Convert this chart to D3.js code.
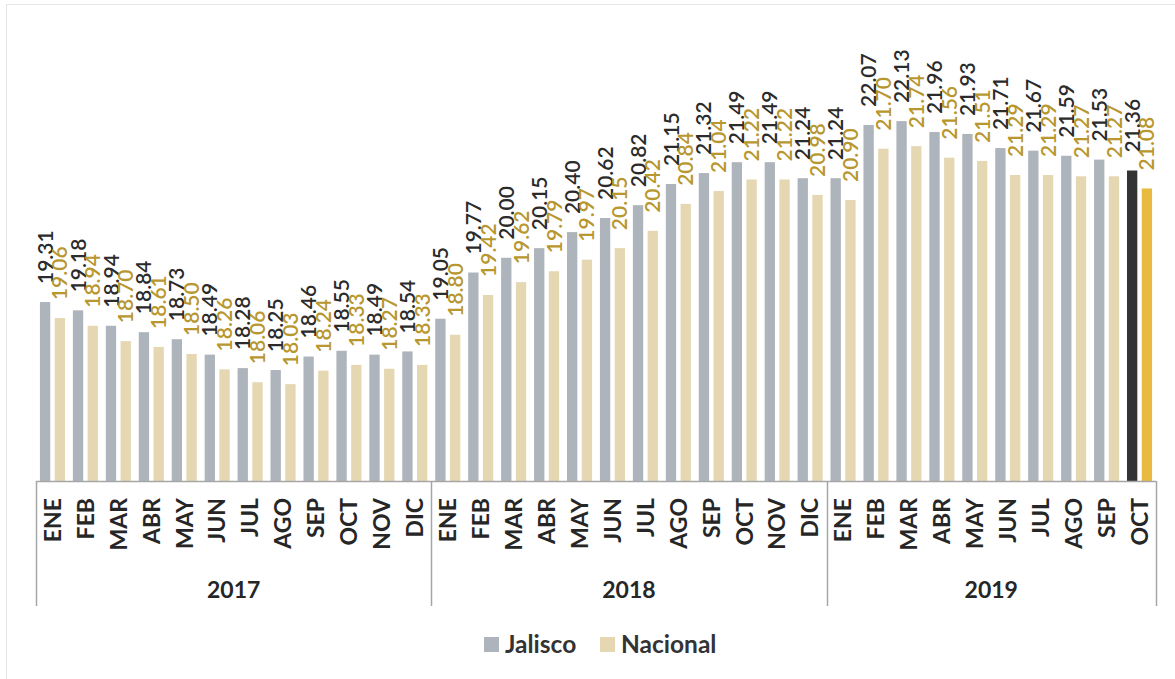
<!DOCTYPE html>
<html>
<head>
<meta charset="utf-8">
<script src="https://cdn.jsdelivr.net/npm/d3@7"></script>
<style>
  body { margin: 0; background: #fff; }
  svg { display: block; font-family: Lato, "Open Sans", sans-serif; }
</style>
</head>
<body>
<div id="chart"></div>
<script>
// datos
var years = ["2017", "2018", "2019"];
var meses = ["ENE", "FEB", "MAR", "ABR", "MAY", "JUN", "JUL", "AGO", "SEP", "OCT", "NOV", "DIC"];
var mesesPorAnio = [12, 12, 10];
var series = ["Jalisco", "Nacional"];

var jalisco = [19.31, 19.18, 18.94, 18.84, 18.73, 18.49, 18.28, 18.25, 18.46, 18.55, 18.49, 18.54,
               19.05, 19.77, 20.00, 20.15, 20.40, 20.62, 20.82, 21.15, 21.32, 21.49, 21.49, 21.24,
               21.24, 22.07, 22.13, 21.96, 21.93, 21.71, 21.67, 21.59, 21.53, 21.36];
var nacional = [19.06, 18.94, 18.70, 18.61, 18.50, 18.26, 18.06, 18.03, 18.24, 18.33, 18.27, 18.33,
                18.80, 19.42, 19.62, 19.79, 19.97, 20.15, 20.42, 20.84, 21.04, 21.22, 21.22, 20.98,
                20.90, 21.70, 21.74, 21.56, 21.51, 21.29, 21.29, 21.27, 21.27, 21.08];

var width = 1175, height = 679;
var left = 36, right = 1156, axisY = 481;

var colores = { Jalisco: "#aeb4bb", Nacional: "#e5d7b2" };
var coloresUltimo = { Jalisco: "#333335", Nacional: "#e8ba40" };
var colorTexto = { Jalisco: "#2b2b2b", Nacional: "#b8972f" };

// construir categorias año-mes
var cats = [];
years.forEach(function(y, i) {
	for (var m = 0; m < mesesPorAnio[i]; m++) {
		cats.push({ year: y, mes: meses[m], key: y + "-" + meses[m] });
	}
});
var rows = cats.map(function(c, i) {
	return { key: c.key, year: c.year, mes: c.mes, Jalisco: jalisco[i], Nacional: nacional[i], last: i == cats.length - 1 };
});

var svg = d3.select("#chart").append("svg").attr("width", width).attr("height", height);

// marco exterior
svg.append("rect")
	.attr("x", 6.5).attr("y", 4.5)
	.attr("width", width + 10).attr("height", height + 10)
	.attr("fill", "none").attr("stroke", "#e6e6e6");

var x = d3.scaleBand().domain(rows.map(function(d) { return d.key; })).range([left, right]);
var x1 = d3.scaleBand().domain(series).range([0, x.bandwidth()]).paddingInner(0.3).paddingOuter(0.267);
var y = d3.scaleLinear().domain([16.52, 23]).range([axisY, axisY - 6.48 * 64.15]);

var grupos = svg.selectAll("g.mes")
	.data(rows)
	.enter().append("g")
	.attr("class", "mes")
	.attr("transform", function(d) { return "translate(" + x(d.key) + ",0)"; });

grupos.selectAll("rect")
	.data(function(d) { return series.map(function(s) { return { s: s, v: d[s], last: d.last }; }); })
	.enter().append("rect")
	.attr("x", function(d) { return x1(d.s); })
	.attr("width", x1.bandwidth())
	.attr("y", function(d) { return y(d.v); })
	.attr("height", function(d) { return axisY - y(d.v); })
	.attr("fill", function(d) { return d.last ? coloresUltimo[d.s] : colores[d.s]; });

grupos.selectAll("text.valor")
	.data(function(d) { return series.map(function(s) { return { s: s, v: d[s] }; }); })
	.enter().append("text")
	.attr("class", "valor")
	.attr("transform", function(d) {
		return "translate(" + (x1(d.s) + x1.bandwidth() / 2) + "," + (y(d.v) - 18) + ") rotate(-90)";
	})
	.attr("dy", "0.36em")
	.attr("text-anchor", "start")
	.style("font-size", "21px")
	.style("font-weight", "600")
	.style("fill", function(d) { return colorTexto[d.s]; })
	.text(function(d) { return d.v.toFixed(2); });

// eje de categorias
svg.append("line")
	.attr("x1", left).attr("x2", right)
	.attr("y1", axisY + 0.5).attr("y2", axisY + 0.5)
	.attr("stroke", "#a6a6a6").attr("stroke-width", 1.5);

grupos.append("text")
	.attr("transform", "translate(" + (x.bandwidth() / 2) + ",498) rotate(-90)")
	.attr("dy", "0.36em")
	.attr("text-anchor", "end")
	.style("font-size", "23px")
	.style("font-weight", "bold")
	.style("fill", "#262626")
	.text(function(d) { return d.mes; });

// separadores de años
var inicio = 0, bordes = [left];
years.forEach(function(yr, i) {
	var primero = rows[inicio].key;
	var ultimo = rows[inicio + mesesPorAnio[i] - 1].key;
	var x0 = x(primero), xf = x(ultimo) + x.bandwidth();
	bordes.push(xf);
	svg.append("text")
		.attr("x", (x0 + xf) / 2)
		.attr("y", 598)
		.attr("text-anchor", "middle")
		.style("font-size", "23px")
		.style("font-weight", "bold")
		.style("fill", "#262626")
		.text(yr);
	inicio += mesesPorAnio[i];
});

svg.selectAll("line.sep")
	.data(bordes)
	.enter().append("line")
	.attr("class", "sep")
	.attr("x1", function(d) { return Math.round(d) + 0.5; })
	.attr("x2", function(d) { return Math.round(d) + 0.5; })
	.attr("y1", axisY).attr("y2", 606)
	.attr("stroke", "#a6a6a6").attr("stroke-width", 1.5);

// leyenda
var leyenda = svg.append("g").attr("transform", "translate(484,637)");
var posLeyenda = [0, 116];
series.forEach(function(s, i) {
	var g = leyenda.append("g").attr("transform", "translate(" + posLeyenda[i] + ",0)");
	g.append("rect").attr("width", 15).attr("height", 15).attr("fill", colores[s]);
	g.append("text")
		.attr("x", 21).attr("y", 16)
		.style("font-size", "24.5px")
		.style("font-weight", "bold")
		.style("fill", "#333")
		.text(s);
});
</script>
</body>
</html>
